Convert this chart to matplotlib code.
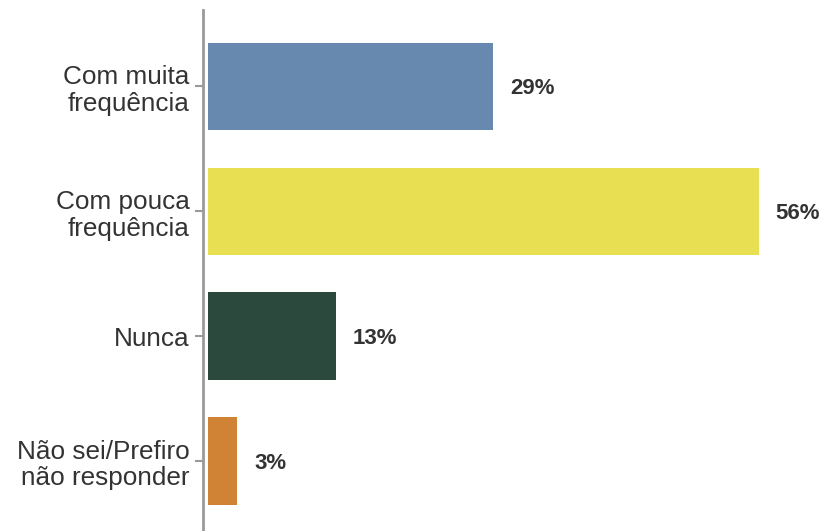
import matplotlib
matplotlib.use('Agg')
import matplotlib.pyplot as plt

# Survey answers and shares
categories = ['Com muita\nfrequência', 'Com pouca\nfrequência', 'Nunca',
              'Não sei/Prefiro\nnão responder']
values = [29, 56, 13, 3]
colors = ['#6789B0', '#E8DF52', '#2B4A3D', '#D08335']

plt.rcParams['font.family'] = ['Liberation Sans', 'DejaVu Sans']

fig = plt.figure(figsize=(8.23, 5.31), dpi=100)
ax = fig.add_axes([203 / 823, 0, 620 / 823, 1 - 10 / 531])

pos = list(range(len(categories)))
ax.barh(pos, values, height=0.7, color=colors)

# Percent labels at the end of each bar
for p, v in zip(pos, values):
    ax.text(v + 1.7, p + 0.02, f'{v}%', va='center', ha='left',
            fontsize=16, fontweight='bold', color='#333333')

ax.set_xlim(-0.5, 62.5)
ax.set_ylim(3.56, -0.612)
ax.set_yticks(pos)
ax.set_yticklabels(categories, fontsize=18.8, color='#333333',
                   linespacing=1.15)
ax.tick_params(axis='y', length=6, width=1.5, color='#999999', pad=3.5)
ax.set_xticks([])

for s in ['top', 'right', 'bottom']:
    ax.spines[s].set_visible(False)
ax.spines['left'].set_color('#999999')
ax.spines['left'].set_linewidth(2)

fig.savefig('out.png', dpi=100)
